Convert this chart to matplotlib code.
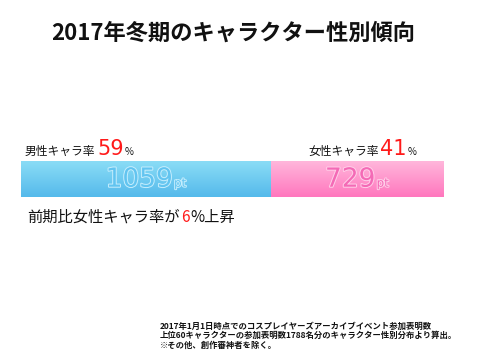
import numpy as np
import matplotlib
matplotlib.use("Agg")
import matplotlib.pyplot as plt
import matplotlib.patheffects as pe
from matplotlib.colors import LinearSegmentedColormap
from matplotlib.offsetbox import TextArea, HPacker, AnnotationBbox

plt.rcParams['font.family'] = ['Noto Sans CJK JP', 'DejaVu Sans']
NUM_FONT = ['DejaVu Sans']

# ── data ──
title = "2017年冬期のキャラクター性別傾向"
groups = ["男性キャラ率", "女性キャラ率"]
points = [1059, 729]
shares = [59, 41]
change_text = ["前期比女性キャラ率が", "6", "%上昇"]
notes = ["2017年1月1日時点でのコスプレイヤーズアーカイブイベント参加表明数",
         "上位60キャラクターの参加表明数1788名分のキャラクター性別分布より算出。",
         "※その他、創作審神者を除く。"]

BLUE = ("#8adcf6", "#55baeb")
PINK = ("#ffb6db", "#ff77be")
TEXT_FILL = ["#62c4f0", "#f46ab6"]
TEXT_EDGE = ["#c6eefd", "#ffd0e9"]
RED = "#ff1a1a"

fig = plt.figure(figsize=(4.8, 3.6), dpi=100)
W, H = 480, 360


def rich(x, y, parts, align=(0, 0)):
    """Place a row of differently styled text pieces at pixel (x, y)."""
    boxes = [TextArea(t, textprops=p) for t, p in parts]
    row = HPacker(children=boxes, align="baseline", pad=0, sep=1)
    ab = AnnotationBbox(row, (x / W, 1 - y / H), xycoords="figure fraction",
                        box_alignment=align, frameon=False, pad=0)
    fig.add_artist(ab)


fig.text(233 / W, 1 - 33 / H, title, ha="center", va="center",
         fontsize=16, fontweight="bold", color="#111111")

# ── stacked bar ──
ax = fig.add_axes([21 / W, 1 - 197 / H, 422 / W, 36 / H])
total = sum(points)
lefts = np.cumsum([0] + points[:-1])
bars = ax.barh([0, 0], points, left=lefts, height=1.0, color=[BLUE[1], PINK[1]],
               edgecolor="none")
ax.set_xlim(0, total)
ax.set_ylim(-0.5, 0.5)
ax.axis("off")

for bar, cols, val, fc, ec in zip(bars, [BLUE, PINK], points, TEXT_FILL, TEXT_EDGE):
    x0, y0 = bar.get_x(), bar.get_y()
    cmap = LinearSegmentedColormap.from_list("g", [cols[1], cols[0]])
    im = ax.imshow(np.linspace(0, 1, 50).reshape(-1, 1), cmap=cmap, origin="lower",
                   extent=[x0, x0 + bar.get_width(), y0, y0 + bar.get_height()],
                   aspect="auto", zorder=2)
    im.set_clip_path(bar)
    eff = [pe.withStroke(linewidth=1.4, foreground=ec)]
    row = HPacker(children=[
        TextArea(str(val), textprops=dict(fontsize=19, color=fc, family=NUM_FONT,
                                          path_effects=eff)),
        TextArea("pt", textprops=dict(fontsize=8.5, color=fc, family=NUM_FONT,
                                      path_effects=eff))],
        align="baseline", pad=0, sep=1)
    ax.add_artist(AnnotationBbox(row, (x0 + bar.get_width() / 2, -0.02),
                                 xycoords="data", frameon=False, pad=0,
                                 box_alignment=(0.5, 0.5), zorder=3))

# ── share labels ──
label_pos = [(25, 159), (308, 159)]
for (lx, ly), g, s in zip(label_pos, groups, shares):
    rich(lx, ly, [(g, dict(fontsize=8.5, color="#111111")),
                  (str(s), dict(fontsize=15, color=RED, family=NUM_FONT)),
                  ("%", dict(fontsize=7, color="#111111"))])

rich(27, 226, [(change_text[0], dict(fontsize=11, color="#111111")),
               (change_text[1], dict(fontsize=11, color=RED)),
               (change_text[2], dict(fontsize=11, color="#111111"))])

for i, line in enumerate(notes):
    fig.text(160 / W, 1 - (326 + 9.5 * i) / H, line, ha="left", va="center",
             fontsize=6, fontweight="bold", color="#111111")

fig.savefig("out.png", dpi=100)
